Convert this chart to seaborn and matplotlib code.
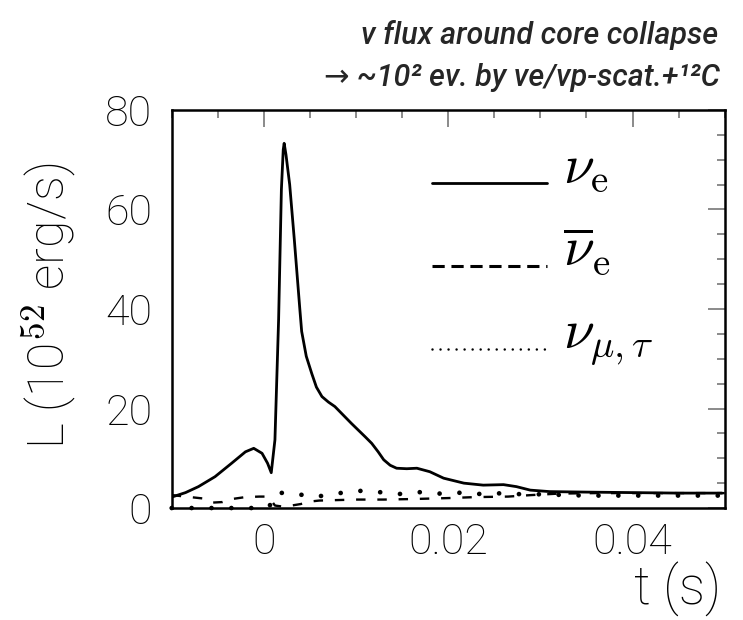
import matplotlib
matplotlib.use("Agg")
import matplotlib.pyplot as plt
from matplotlib.lines import Line2D
from matplotlib.ticker import MultipleLocator, FuncFormatter
import seaborn as sns
import pandas as pd

# ---- data ----
t_nue = [-0.01, -0.0085, -0.0071, -0.0053, -0.0035, -0.002, -0.0011, -0.0002,
         0.0004, 0.0008, 0.0012, 0.0016, 0.0019, 0.0021, 0.0022, 0.0024, 0.0028,
         0.0033, 0.0039, 0.0041, 0.0046, 0.0052, 0.0057, 0.0063, 0.0070, 0.0077,
         0.0086, 0.0095, 0.011, 0.0117, 0.0124, 0.013, 0.0137, 0.0144, 0.0155,
         0.0166, 0.018, 0.0195, 0.0217, 0.0238, 0.026, 0.0274, 0.0289, 0.031,
         0.035, 0.04, 0.045, 0.0497]
L_nue = [2.2, 3.1, 4.3, 6.3, 9.0, 11.3, 12.0, 11.0,
         9.0, 7.1, 13.7, 38.0, 64.0, 72.0, 73.3, 71.0, 65.0,
         54.0, 40.0, 35.5, 30.5, 27.0, 24.3, 22.4, 21.3, 20.4,
         18.7, 17.0, 14.3, 13.0, 11.3, 9.7, 8.6, 8.0, 7.9,
         8.0, 7.3, 6.0, 5.0, 4.6, 4.7, 4.3, 3.6, 3.3,
         3.2, 3.1, 3.0, 3.0]

t_nuebar = [-0.01, -0.0085, -0.0065, -0.0055, -0.0045, -0.0035, -0.002, -0.0005,
            0.0005, 0.0012, 0.002, 0.003, 0.004, 0.005, 0.006, 0.008, 0.010,
            0.013, 0.016, 0.02, 0.023, 0.0265, 0.029, 0.032, 0.036, 0.04, 0.045, 0.05]
L_nuebar = [2.6, 2.3, 1.9, 1.1, 1.2, 1.8, 2.2, 2.3,
            2.3, 0.5, 0.3, 0.5, 0.8, 1.3, 1.5, 1.6, 1.7,
            1.7, 1.8, 2.0, 2.2, 2.3, 2.6, 2.9, 3.0, 3.0, 3.0, 3.0]

t_numu = [-0.01, 0.0, 0.0006, 0.0012, 0.003, 0.0052, 0.007, 0.0092, 0.011, 0.013,
          0.015, 0.017, 0.019, 0.021, 0.023, 0.025, 0.027, 0.029, 0.035, 0.04,
          0.045, 0.05]
L_numu = [0.0, 0.0, 0.3, 3.0, 3.1, 2.2, 2.6, 3.3, 3.5, 3.1,
          2.8, 3.2, 2.9, 3.1, 2.8, 3.0, 2.8, 2.8, 2.5, 2.5,
          2.5, 2.5]

legend_labels = [r"$\nu_{\mathrm{e}}$", r"$\overline{\nu}_{\mathrm{e}}$", r"$\nu_{\mu,\tau}$"]
x_ticks = [0.0, 0.02, 0.04]
y_ticks = [0, 20, 40, 60, 80]
title_lines = ["\u03bd flux around core collapse",
               "\u2192 ~10\u00b2 ev. by \u03bde/\u03bdp-scat.+\u00b9\u00b2C"]

# ---- style ----
sns.set_style("white")
plt.rcParams["font.family"] = ["Roboto", "DejaVu Sans"]
plt.rcParams["font.weight"] = "light"
plt.rcParams["mathtext.fontset"] = "cm"

fig = plt.figure(figsize=(7.43, 6.2), dpi=100)
ax = fig.add_axes([0.2311, 0.1806, 0.9754 - 0.2311, 0.8226 - 0.1806])

df_e = pd.DataFrame({"t": t_nue, "L": L_nue})
df_b = pd.DataFrame({"t": t_nuebar, "L": L_nuebar})
df_m = pd.DataFrame({"t": t_numu, "L": L_numu})

sns.lineplot(data=df_e, x="t", y="L", ax=ax, color="black", lw=2.0,
             estimator=None, sort=False)
sns.lineplot(data=df_b, x="t", y="L", ax=ax, color="black", lw=1.7,
             linestyle=(0, (4, 5)), estimator=None, sort=False)
sns.lineplot(data=df_m, x="t", y="L", ax=ax, color="black", lw=3.4,
             linestyle=(0, (0.01, 4.2)), dash_capstyle="round",
             estimator=None, sort=False, clip_on=False, zorder=5)

ax.set_xlim(-0.01, 0.05)
ax.set_ylim(0, 80)
ax.set_xlabel("")
ax.set_ylabel("")

ax.xaxis.set_major_locator(MultipleLocator(0.02))
ax.xaxis.set_minor_locator(MultipleLocator(0.005))
ax.yaxis.set_major_locator(MultipleLocator(20))
ax.yaxis.set_minor_locator(MultipleLocator(5))
ax.set_xticks(x_ticks)
ax.set_yticks(y_ticks)
ax.xaxis.set_major_formatter(FuncFormatter(lambda v, p: "0" if abs(v) < 1e-12 else f"{v:g}"))

for s in ax.spines.values():
    s.set_linewidth(1.8)
    s.set_color("black")

ax.tick_params(which="both", direction="in", top=True, right=True,
               color="#777777", width=1.2)
ax.tick_params(which="major", length=12)
ax.tick_params(which="minor", length=6)
ax.tick_params(axis="x", which="major", labelsize=31, pad=10)
ax.tick_params(axis="y", which="major", labelsize=31, pad=14)
for lab in ax.get_xticklabels() + ax.get_yticklabels():
    lab.set_fontweight("light")
    lab.set_color("black")

# axis titles
fig.text(49 / 743, 1 - 306 / 620, r"L (10$^{\mathsf{52}}$ erg/s)", rotation=90,
         ha="center", va="center", fontsize=36, fontweight="light", color="black")
fig.text(721 / 743, 1 - 589 / 620, "t (s)", ha="right", va="center",
         fontsize=38, fontweight="light", color="black")

# title
title_family = ["Roboto", "DejaVu Sans"]
fig.text(718 / 743, 1 - 35 / 620, title_lines[0], ha="right", va="center",
         fontsize=22, style="italic", fontweight="medium", family=title_family)
fig.text(720 / 743, 1 - 77 / 620, title_lines[1], ha="right", va="center",
         fontsize=22, style="italic", fontweight="medium", family=title_family)

# legend drawn as line samples plus labels
leg_y = [0.8166, 0.608, 0.3995]
leg_styles = [dict(lw=2.0, linestyle="-"),
              dict(lw=2.2, linestyle=(0, (4, 2.2))),
              dict(lw=1.8, linestyle=(0, (0.01, 3.2)), dash_capstyle="round")]
for yy, st, lab in zip(leg_y, leg_styles, legend_labels):
    ax.add_line(Line2D([0.4707, 0.6787], [yy, yy], transform=ax.transAxes,
                       color="black", **st))
    ax.text(0.7076, yy, lab, transform=ax.transAxes, fontsize=40,
            ha="left", va="baseline", color="black")

fig.savefig("out.png", dpi=100)
